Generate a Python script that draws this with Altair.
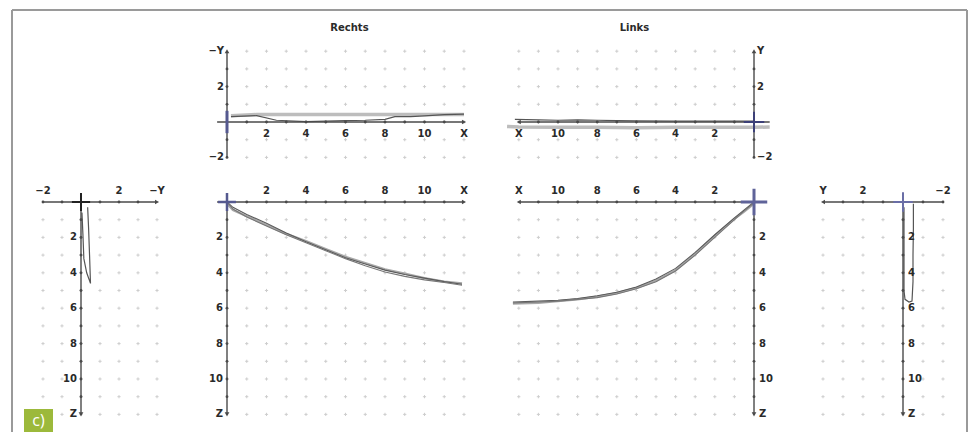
import altair as alt
import pandas as pd

# ---------------- values ----------------
EVEN_TICKS = [2, 4, 6, 8, 10]
EVEN_TEXT = ["2", "4", "6", "8", "10"]
LONG_GRID = [1, 2, 3, 4, 5, 6, 7, 8, 9, 10, 11, 12]   # X and Z grid positions
SHORT_GRID = [-2, -1, 0, 1, 2, 3, 4]                 # Y grid positions
AXIS_UNITS_LONG = [1, 2, 3, 4, 5, 6, 7, 8, 9, 10, 11]
AXIS_UNITS_SHORT = [-2, -1, 1, 2, 3]

TITLES = ["Rechts", "Links"]
PANEL_TAG = ["c)"]

# Rechts - top view (X vs -Y)
RT_X_A = [0.2, 1.5, 3.0, 5.0, 7.0, 9.0, 11.0, 12.0]
RT_Y_A = [0.35, 0.42, 0.42, 0.43, 0.42, 0.43, 0.42, 0.42]
RT_X_B = [0.2, 1.5, 2.5, 4.0, 5.0, 6.0, 7.0, 8.0, 8.5, 9.3, 10.0, 11.0, 12.0]
RT_Y_B = [0.30, 0.36, 0.10, 0.02, 0.05, 0.08, 0.10, 0.15, 0.30, 0.30, 0.35, 0.42, 0.45]

# Rechts - front view (X vs Z), three runs
RM_X = [0.0, 0.3, 1.0, 2.0, 3.0, 4.0, 5.0, 6.0, 7.0, 8.0, 9.0, 10.0, 11.0, 11.9]
RM_Z_A = [0.0, 0.30, 0.70, 1.20, 1.75, 2.25, 2.70, 3.15, 3.50, 3.85, 4.10, 4.30, 4.50, 4.65]
RM_Z_B = [0.0, 0.40, 0.85, 1.35, 1.85, 2.30, 2.75, 3.20, 3.60, 3.95, 4.20, 4.40, 4.55, 4.70]
RM_Z_C = [0.1, 0.45, 0.80, 1.30, 1.80, 2.20, 2.65, 3.10, 3.45, 3.80, 4.05, 4.30, 4.50, 4.60]

# Links - top view (X vs Y)
LT_X_A = [-0.8, 0.0, 2.0, 4.0, 6.0, 8.0, 10.0, 12.0, 12.6]
LT_Y_A = [-0.28, -0.30, -0.30, -0.30, -0.32, -0.30, -0.30, -0.28, -0.25]
LT_X_B = [0.0, 2.0, 4.0, 6.0, 7.0, 8.0, 9.0, 10.0, 11.0, 12.2]
LT_Y_B = [0.05, 0.05, 0.05, 0.06, 0.08, 0.10, 0.12, 0.10, 0.12, 0.15]

# Links - front view (X vs Z), three runs
LM_X = [0.0, 0.5, 1.0, 2.0, 3.0, 4.0, 5.0, 6.0, 7.0, 8.0, 9.0, 10.0, 11.0, 12.3]
LM_Z_A = [0.0, 0.45, 0.90, 1.85, 2.85, 3.75, 4.35, 4.80, 5.10, 5.30, 5.45, 5.55, 5.60, 5.65]
LM_Z_B = [0.05, 0.50, 1.00, 2.00, 3.00, 3.90, 4.50, 4.90, 5.20, 5.40, 5.50, 5.60, 5.65, 5.70]
LM_Z_C = [0.1, 0.55, 0.95, 1.90, 2.95, 3.85, 4.45, 4.85, 5.15, 5.35, 5.50, 5.60, 5.70, 5.75]

# side view left (-Y vs Z)
SL_Y = [0.35, 0.40, 0.45, 0.50, 0.30, 0.15, 0.10, 0.05]
SL_Z = [0.30, 1.50, 3.00, 4.60, 4.00, 3.20, 1.80, 0.60]

# side view right (Y vs Z)
SR_Y = [-0.52, -0.52, -0.50, -0.50, -0.45, -0.30, -0.10, -0.05, -0.05, -0.05, -0.05]
SR_Z = [0.10, 1.50, 3.00, 4.50, 5.60, 5.65, 5.50, 5.00, 3.50, 2.00, 0.30]

# ---------------- styling ----------------
FONT = "DejaVu Sans"
AX = "#4a4a4a"
GRIDC = "#b9b9b9"
LBL = "#2a2a2a"
BLUE = "#55598f"
CROSS = "M-1,0L1,0M0,-1L0,1"
VBAR = "M0,-1L0,1"


def sc(dom, rev):
    return alt.Scale(domain=dom, reverse=rev, nice=False, zero=False)


class Panel:
    def __init__(self, width, height, hdom, vdom, hrev, vrev):
        self.xs = sc(hdom, hrev)
        self.ys = sc(vdom, vrev)
        self.w = width
        self.h = height
        self.layers = []

    def X(self):
        return alt.X("h:Q", scale=self.xs, axis=None)

    def Y(self):
        return alt.Y("v:Q", scale=self.ys, axis=None)

    def grid(self, hs, vs):
        d = pd.DataFrame({"h": [a for a in hs for b in vs], "v": [b for a in hs for b in vs]})
        self.layers.append(alt.Chart(d).mark_point(shape=CROSS, size=10, filled=False,
                                                   color=GRIDC, strokeWidth=1)
                           .encode(x=self.X(), y=self.Y()))

    def axis(self, h1, v1, h2, v2):
        d = pd.DataFrame({"h": [h1], "v": [v1], "h2": [h2], "v2": [v2]})
        self.layers.append(alt.Chart(d).mark_rule(color=AX, strokeWidth=1.4)
                           .encode(x=self.X(), y=self.Y(), x2="h2:Q", y2="v2:Q"))

    def ticks(self, hs, vs):
        d = pd.DataFrame({"h": hs, "v": vs})
        self.layers.append(alt.Chart(d).mark_circle(size=8, color=AX, opacity=1)
                           .encode(x=self.X(), y=self.Y()))

    def arrow(self, h, v, shape):
        d = pd.DataFrame({"h": [h], "v": [v]})
        self.layers.append(alt.Chart(d).mark_point(shape=shape, size=22, filled=True,
                                                   color=AX, opacity=1)
                           .encode(x=self.X(), y=self.Y()))

    def line(self, hs, vs, color, width):
        d = pd.DataFrame({"h": hs, "v": vs, "o": list(range(len(hs)))})
        self.layers.append(alt.Chart(d).mark_line(color=color, strokeWidth=width)
                           .encode(x=self.X(), y=self.Y(), order="o:Q"))

    def text(self, hs, vs, txt, dx=0, dy=0, align="center", size=10):
        d = pd.DataFrame({"h": hs, "v": vs, "t": txt})
        self.layers.append(alt.Chart(d).mark_text(font=FONT, fontWeight="bold", fontSize=size,
                                                  color=LBL, dx=dx, dy=dy, align=align,
                                                  baseline="middle")
                           .encode(x=self.X(), y=self.Y(), text="t:N"))

    def cross(self, shape, size, color, width):
        d = pd.DataFrame({"h": [0], "v": [0]})
        self.layers.append(alt.Chart(d).mark_point(shape=shape, size=size, filled=False,
                                                   color=color, strokeWidth=width, opacity=1)
                           .encode(x=self.X(), y=self.Y()))

    def add(self, layer):
        self.layers.append(layer)

    def chart(self):
        return alt.layer(*self.layers).properties(width=self.w, height=self.h)


TOP_V = [-2.429, 5.876]
MAIN_V = [-1.356, 12.599]
R_H = [-1.114, 12.557]
L_H = [-1.071, 12.704]
SL_H = [-2.684, 4.947]
SR_H = [-2.85, 4.9]

one = pd.DataFrame({"k": [0]})

# ---------- spacer above the left side view: carries the frame ----------
fa = Panel(145, 147, SL_H, TOP_V, False, False)
fa.add(alt.Chart(one).mark_rule(color="#9a9a9a", strokeWidth=2)
       .encode(x=alt.value(-18), y=alt.value(-8), y2=alt.value(414)))
fa.add(alt.Chart(one).mark_rule(color="#9a9a9a", strokeWidth=2)
       .encode(x=alt.value(-18), x2=alt.value(937), y=alt.value(-8)))
fa.add(alt.Chart(one).mark_rule(color="#9a9a9a", strokeWidth=2)
       .encode(x=alt.value(937), y=alt.value(-8), y2=alt.value(414)))

# ---------- spacer above the right side view ----------
fd = Panel(155, 147, SR_H, TOP_V, True, False)
fd.add(alt.Chart(one).mark_point(opacity=0).encode(x=alt.value(0), y=alt.value(0)))

# ---------- Rechts top ----------
rt = Panel(270, 147, R_H, TOP_V, False, False)
rt.grid(LONG_GRID, SHORT_GRID)
rt.line(RT_X_A, RT_Y_A, "#bdbdbd", 3.5)
rt.line(RT_X_B, RT_Y_B, "#555555", 1.2)
rt.axis(-0.5, 0, 12, 0)
rt.axis(0, -2, 0, 4)
rt.ticks(AXIS_UNITS_LONG, [0] * len(AXIS_UNITS_LONG))
rt.ticks([0] * len(AXIS_UNITS_SHORT), AXIS_UNITS_SHORT)
rt.arrow(12, 0, "triangle-right")
rt.arrow(0, 4, "triangle-up")
rt.cross(VBAR, 500, BLUE, 3)
rt.text(EVEN_TICKS + [12], [0] * 6, EVEN_TEXT + ["X"], dy=12)
rt.text([0, 0, 0], [4, 2, -2], ["−Y", "2", "−2"], dx=-3, align="right")
rt.text([6.2], [5.3], TITLES[:1], size=10)

# ---------- Rechts main ----------
rm = Panel(270, 247, R_H, MAIN_V, False, True)
rm.grid(LONG_GRID, LONG_GRID)
rm.line(RM_X, RM_Z_C, "#a8a8a8", 2.2)
rm.line(RM_X, RM_Z_A, "#5a5a5a", 1.1)
rm.line(RM_X, RM_Z_B, "#777777", 1.1)
rm.axis(-0.5, 0, 12, 0)
rm.axis(0, -0.5, 0, 12)
rm.ticks(AXIS_UNITS_LONG, [0] * len(AXIS_UNITS_LONG))
rm.ticks([0] * len(AXIS_UNITS_LONG), AXIS_UNITS_LONG)
rm.arrow(12, 0, "triangle-right")
rm.arrow(0, 12, "triangle-down")
rm.cross(CROSS, 320, BLUE, 2.5)
rm.text(EVEN_TICKS + [12], [0] * 6, EVEN_TEXT + ["X"], dy=-11)
rm.text([0] * 6, EVEN_TICKS + [12], EVEN_TEXT + ["Z"], dx=-4, align="right")

# ---------- Links top ----------
lt = Panel(270, 147, L_H, TOP_V, True, False)
lt.grid(LONG_GRID, SHORT_GRID)
lt.line(LT_X_A, LT_Y_A, "#bdbdbd", 3.5)
lt.line(LT_X_B, LT_Y_B, "#555555", 1.2)
lt.axis(-0.8, 0, 12, 0)
lt.axis(0, -2, 0, 4)
lt.ticks(AXIS_UNITS_LONG, [0] * len(AXIS_UNITS_LONG))
lt.ticks([0] * len(AXIS_UNITS_SHORT), AXIS_UNITS_SHORT)
lt.arrow(12, 0, "triangle-left")
lt.arrow(0, 4, "triangle-up")
lt.cross(CROSS, 420, "#3c4078", 2)
lt.text([12] + EVEN_TICKS[::-1], [0] * 6, ["X"] + EVEN_TEXT[::-1], dy=12)
lt.text([0, 0, 0], [4, 2, -2], ["Y", "2", "−2"], dx=3, align="left")
lt.text([6.1], [5.3], TITLES[1:], size=10)

# ---------- Links main ----------
lm = Panel(270, 247, L_H, MAIN_V, True, True)
lm.grid(LONG_GRID, LONG_GRID)
lm.line(LM_X, LM_Z_C, "#a8a8a8", 2.2)
lm.line(LM_X, LM_Z_A, "#5a5a5a", 1.1)
lm.line(LM_X, LM_Z_B, "#777777", 1.1)
lm.axis(-0.6, 0, 12, 0)
lm.axis(0, -0.5, 0, 12)
lm.ticks(AXIS_UNITS_LONG, [0] * len(AXIS_UNITS_LONG))
lm.ticks([0] * len(AXIS_UNITS_LONG), AXIS_UNITS_LONG)
lm.arrow(12, 0, "triangle-left")
lm.arrow(0, 12, "triangle-down")
lm.cross(CROSS, 700, "#5f6399", 3)
lm.text([12] + EVEN_TICKS[::-1], [0] * 6, ["X"] + EVEN_TEXT[::-1], dy=-11)
lm.text([0] * 6, EVEN_TICKS + [12], EVEN_TEXT + ["Z"], dx=5, align="left")

# ---------- side left ----------
sl = Panel(145, 247, SL_H, MAIN_V, False, True)
sl.grid(SHORT_GRID, LONG_GRID)
sl.line(SL_Y, SL_Z, "#555555", 1.2)
sl.axis(-2, 0, 4, 0)
sl.axis(0, -0.5, 0, 12)
sl.ticks(AXIS_UNITS_SHORT, [0] * len(AXIS_UNITS_SHORT))
sl.ticks([0] * len(AXIS_UNITS_LONG), AXIS_UNITS_LONG)
sl.arrow(4, 0, "triangle-right")
sl.arrow(0, 12, "triangle-down")
sl.cross(CROSS, 330, "#222222", 2)
sl.text([-2, 2, 4], [0, 0, 0], ["−2", "2", "−Y"], dy=-11)
sl.text([0] * 6, EVEN_TICKS + [12], EVEN_TEXT + ["Z"], dx=-4, align="right")
tag = pd.DataFrame({"t": PANEL_TAG})
sl.add(alt.Chart(tag).mark_rect(color="#9cb93b")
       .encode(x=alt.value(-6), x2=alt.value(23), y=alt.value(231), y2=alt.value(254)))
sl.add(alt.Chart(tag).mark_text(color="white", font="Open Sans", fontSize=16, align="center",
                                baseline="middle")
       .encode(x=alt.value(8.5), y=alt.value(242.5), text="t:N"))

# ---------- side right ----------
sr = Panel(155, 247, SR_H, MAIN_V, True, True)
sr.grid(SHORT_GRID, LONG_GRID)
sr.line(SR_Y, SR_Z, "#555555", 1.2)
sr.axis(-2, 0, 4, 0)
sr.axis(0, -0.5, 0, 12)
sr.ticks(AXIS_UNITS_SHORT, [0] * len(AXIS_UNITS_SHORT))
sr.ticks([0] * len(AXIS_UNITS_LONG), AXIS_UNITS_LONG)
sr.arrow(4, 0, "triangle-left")
sr.arrow(0, 12, "triangle-down")
sr.cross(CROSS, 380, "#6a6ea6", 2)
sr.text([4, 2, -2], [0, 0, 0], ["Y", "2", "−2"], dy=-11)
sr.text([0] * 6, EVEN_TICKS + [12], EVEN_TEXT + ["Z"], dx=5, align="left")

chart = (
    alt.concat(fa.chart(), rt.chart(), lt.chart(), fd.chart(),
               sl.chart(), rm.chart(), lm.chart(), sr.chart(),
               columns=4, align="each", bounds="flush",
               spacing={"row": 13, "column": 30})
    .properties(padding={"left": 3, "top": 1, "right": 0, "bottom": 0}, background="white")
    .configure_view(stroke=None)
)

chart.save("out.html", embed_options={"renderer": "svg", "actions": False})
